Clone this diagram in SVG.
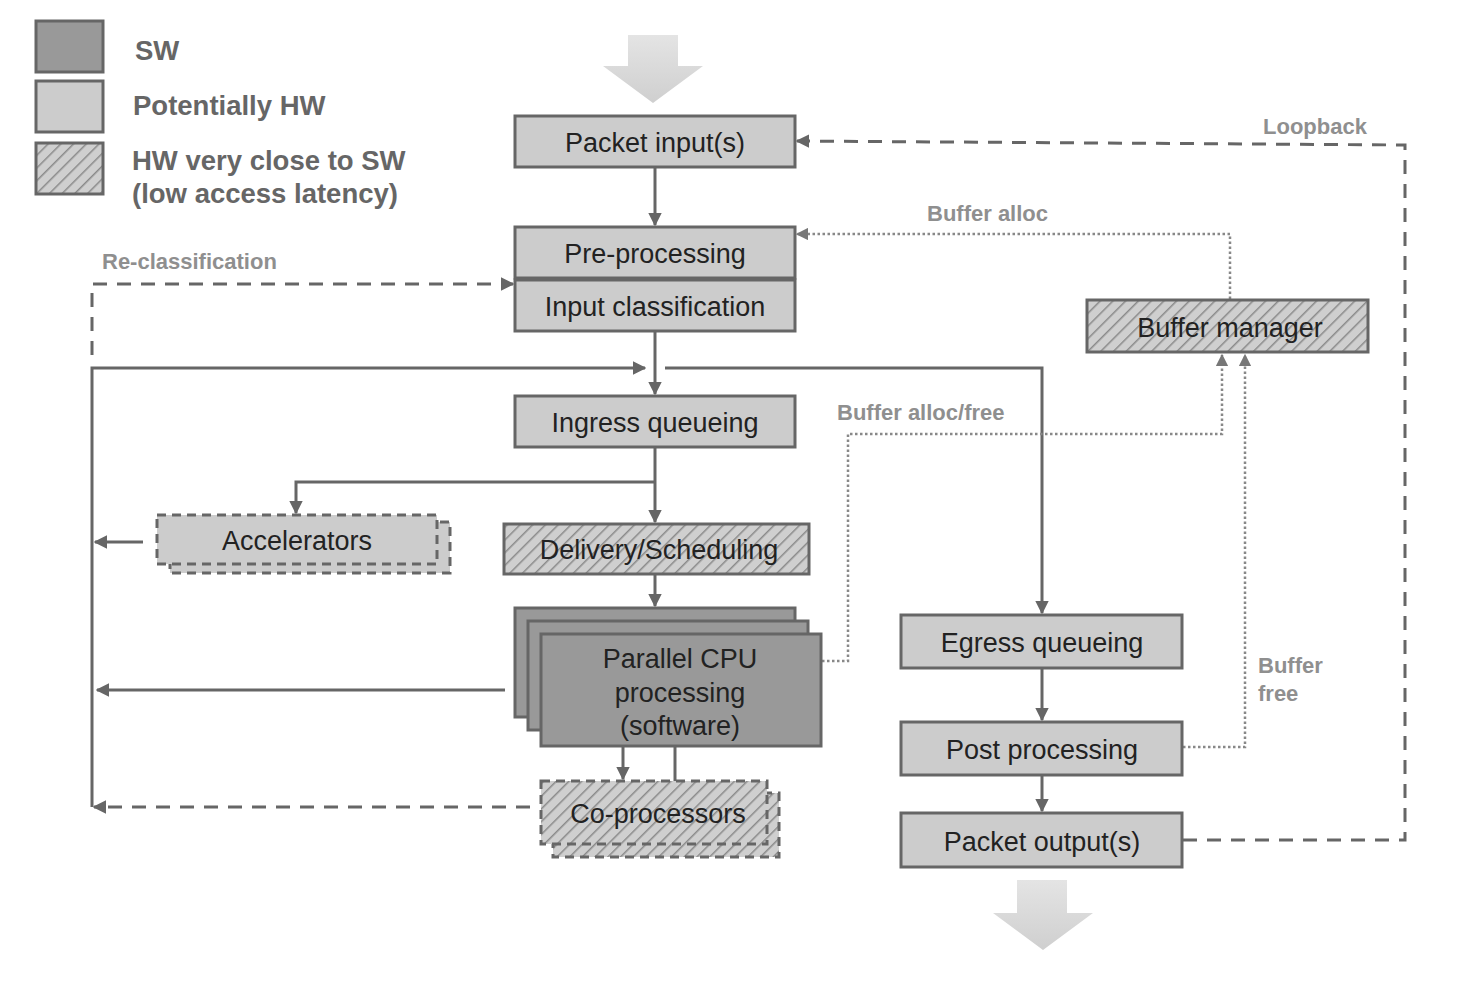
<svg xmlns="http://www.w3.org/2000/svg" width="1464" height="1004" viewBox="0 0 1464 1004">
<defs>
<pattern id="hatch" patternUnits="userSpaceOnUse" width="9" height="9" patternTransform="rotate(45)">
<rect width="9" height="9" fill="#cfcfcf"/>
<line x1="0" y1="0" x2="0" y2="9" stroke="#8a8a8a" stroke-width="3"/>
</pattern>
<linearGradient id="bigArrow" x1="0" y1="0" x2="0" y2="1">
<stop offset="0" stop-color="#e4e4e4"/>
<stop offset="1" stop-color="#cfcfcf"/>
</linearGradient>
<marker id="ah" viewBox="0 0 10 10" refX="9" refY="5" markerWidth="4.5" markerHeight="4.5" orient="auto" markerUnits="strokeWidth">
<path d="M0,0 L10,5 L0,10 z" fill="#666"/>
</marker>
<marker id="ahd" viewBox="0 0 10 10" refX="9" refY="5" markerWidth="5" markerHeight="5" orient="auto" markerUnits="strokeWidth">
<path d="M0,0 L10,5 L0,10 z" fill="#777"/>
</marker>
</defs>
<style>
.box{stroke:#666;stroke-width:3}
.hw{fill:#cccccc}
.sw{fill:#999999}
.ht{fill:url(#hatch)}
.dash{stroke-dasharray:9 6}
.t{font-family:"Liberation Sans",Arial,sans-serif;font-size:27px;fill:#222;text-anchor:middle}
.lg{font-family:"Liberation Sans",Arial,sans-serif;font-size:27.5px;font-weight:bold;fill:#666}
.lbl{font-family:"Liberation Sans",Arial,sans-serif;font-size:22px;font-weight:bold;fill:#8f8f8f}
.c{fill:none;stroke:#666;stroke-width:3}
.cd{fill:none;stroke:#666;stroke-width:3;stroke-dasharray:14 10}
.cdot{fill:none;stroke:#888;stroke-width:2.5;stroke-dasharray:2.5 2.5}
</style>
<rect width="1464" height="1004" fill="#fff"/>

<g id="legend">
<rect x="36" y="21" width="67" height="51" class="box sw"/>
<rect x="36" y="81" width="67" height="51" class="box hw"/>
<rect x="36" y="143" width="67" height="51" class="box ht"/>
<text x="135" y="60" class="lg">SW</text>
<text x="133" y="115" class="lg">Potentially HW</text>
<text x="132" y="170" class="lg">HW very close to SW</text>
<text x="132" y="203" class="lg">(low access latency)</text>
</g>

<g id="input-arrow">
<path d="M628,35 H678 V66 H703 L653,103 L603,66 H628 Z" fill="url(#bigArrow)"/>
</g>
<g id="output-arrow">
<path d="M1017,880 H1067 V913 H1093 L1043,950 L993,913 H1017 Z" fill="url(#bigArrow)"/>
</g>

<g id="connectors">
<path d="M655,168 V225" class="c" marker-end="url(#ah)"/>
<path d="M655,332 V394" class="c" marker-end="url(#ah)"/>
<path d="M655,447 V522" class="c" marker-end="url(#ah)"/>
<path d="M655,482 H296 V513" class="c" marker-end="url(#ah)"/>
<path d="M655,574 V606" class="c" marker-end="url(#ah)"/>
<path d="M623,746 V779" class="c" marker-end="url(#ah)"/>
<path d="M675,746 V781" class="c"/>
<path d="M92,807 V368 H645" class="c" marker-end="url(#ah)"/>
<path d="M665,368 H1042 V613" class="c" marker-end="url(#ah)"/>
<path d="M143,542 H95" class="c" marker-end="url(#ah)"/>
<path d="M505,690 H97" class="c" marker-end="url(#ah)"/>
<path d="M530,807 H94" class="cd" marker-end="url(#ah)"/>
<path d="M1042,668 V720" class="c" marker-end="url(#ah)"/>
<path d="M1042,775 V811" class="c" marker-end="url(#ah)"/>
<path d="M92,355 V284 H513" class="cd" marker-end="url(#ah)"/>
<text x="102" y="269" class="lbl">Re-classification</text>
<path d="M1183,840 H1405 V145 L797,141" class="cd" marker-end="url(#ah)"/>
<text x="1263" y="134" class="lbl">Loopback</text>
<path d="M1230,299 V234 H797" class="cdot" marker-end="url(#ahd)"/>
<text x="927" y="221" class="lbl">Buffer alloc</text>
<path d="M822,661 H848 V434 H1222 V355" class="cdot" marker-end="url(#ahd)"/>
<text x="837" y="420" class="lbl">Buffer alloc/free</text>
<path d="M1183,747 H1245 V355" class="cdot" marker-end="url(#ahd)"/>
<text x="1258" y="673" class="lbl">Buffer</text>
<text x="1258" y="701" class="lbl">free</text>
</g>

<g id="packet-input">
<rect x="515" y="116" width="280" height="51" class="box hw"/>
<text x="655" y="152" class="t">Packet input(s)</text>
</g>
<g id="pre-processing">
<rect x="515" y="227" width="280" height="51" class="box hw"/>
<text x="655" y="263" class="t">Pre-processing</text>
</g>
<g id="input-classification">
<rect x="515" y="280" width="280" height="51" class="box hw"/>
<text x="655" y="316" class="t">Input classification</text>
</g>
<g id="ingress-queueing">
<rect x="515" y="396" width="280" height="51" class="box hw"/>
<text x="655" y="432" class="t">Ingress queueing</text>
</g>
<g id="accelerators">
<rect x="170" y="522" width="280" height="51" class="box hw dash"/>
<rect x="157" y="515" width="280" height="49" class="box hw dash"/>
<text x="297" y="550" class="t">Accelerators</text>
</g>
<g id="delivery-scheduling">
<rect x="504" y="524" width="305" height="50" class="box ht"/>
<text x="659" y="559" class="t">Delivery/Scheduling</text>
</g>
<g id="parallel-cpu">
<rect x="515" y="608" width="280" height="109" class="box sw"/>
<rect x="528" y="621" width="280" height="109" class="box sw"/>
<rect x="541" y="634" width="280" height="112" class="box sw"/>
<text x="680" y="668" class="t">Parallel CPU</text>
<text x="680" y="702" class="t">processing</text>
<text x="680" y="735" class="t">(software)</text>
</g>
<g id="co-processors">
<rect x="553" y="793" width="226" height="64" class="box ht dash"/>
<rect x="541" y="781" width="226" height="63" class="box ht dash"/>
<text x="658" y="823" class="t">Co-processors</text>
</g>
<g id="buffer-manager">
<rect x="1087" y="300" width="281" height="52" class="box ht"/>
<text x="1230" y="337" class="t">Buffer manager</text>
</g>
<g id="egress-queueing">
<rect x="901" y="615" width="281" height="53" class="box hw"/>
<text x="1042" y="652" class="t">Egress queueing</text>
</g>
<g id="post-processing">
<rect x="901" y="722" width="281" height="53" class="box hw"/>
<text x="1042" y="759" class="t">Post processing</text>
</g>
<g id="packet-output">
<rect x="901" y="813" width="281" height="54" class="box hw"/>
<text x="1042" y="851" class="t">Packet output(s)</text>
</g>
</svg>
